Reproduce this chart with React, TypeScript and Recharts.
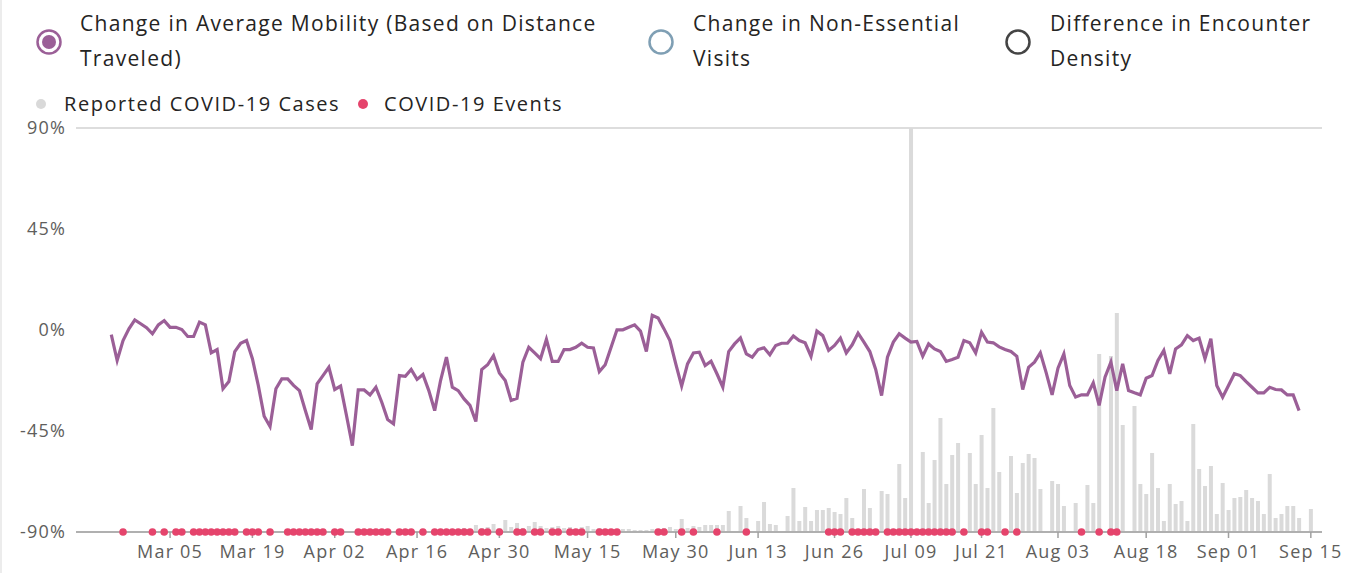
import { ComposedChart, Line, Bar, Scatter, XAxis, YAxis, CartesianGrid } from 'recharts';

// days are counted from Jan 1, 2020 (Jan 1 = 0)
const mobilityStartDay = 54; // Feb 24
const mobility = [
  -2.1, -13.6, -4.7, 0.5, 4.5, 2.8, 1.0, -1.7, 2.3, 4.2,
  1.2, 1.2, 0.2, -2.9, -2.9, 3.5, 2.3, -10.2, -8.7, -26.2,
  -23, -9.6, -5.9, -4.7, -12.8, -24.7, -38.4, -43, -26.2, -21.8,
  -21.8, -24.7, -27, -35.9, -44.3, -24, -20.3, -16.6, -26.5, -25,
  -38.1, -51.5, -26.7, -26.7, -28.9, -25.5, -32.2, -39.9, -41.8, -20.3,
  -20.6, -17.6, -22, -19.8, -27, -35.9, -22.5, -12.1, -25.5, -27,
  -30.7, -33.6, -40.8, -17.6, -15.5, -11.4, -19.1, -22.5, -31.4, -30.4,
  -14.3, -7.7, -10.2, -12.8, -4.2, -14, -14, -8.7, -8.7, -7.7,
  -5.9, -7.7, -8, -18.5, -15.5, -7.7, 0.1, 0.1, 1.2, 2.3,
  -0.5, -9.6, 6.5, 5.3, 0.5, -4.7, -15.1, -25, -15.1, -10.2,
  -9.9, -15.8, -13.9, -19.5, -25.5, -9.6, -6.2, -3.5, -10.6, -12.1,
  -8.7, -7.9, -11, -6.9, -5.9, -5.9, -2.7, -4.7, -5.7, -11.8,
  -0.5, -2.5, -9.1, -6.9, -3.6, -10.2, -6.6, -1.4, -5.4, -9.6,
  -17.6, -29.2, -12.1, -5.4, -1.7, -3.6, -5.4, -5.1, -11.7, -6.2,
  -8.4, -9.6, -14, -13.1, -12.1, -4.7, -5.7, -10.2, -1, -5.4,
  -5.7, -7.5, -8.7, -9.6, -11.7, -26.5, -16.6, -14.3, -10.2, -19.1,
  -28.9, -17, -10.6, -24.7, -29.9, -28.9, -28.9, -23.5, -33.6, -21,
  -14.3, -27, -15.1, -27, -28, -28.9, -21.5, -20.3, -13.6, -9.1,
  -19.5, -8.4, -6.6, -2.5, -4.7, -3.6, -12.8, -3.9, -24.7, -29.9,
  -24.7, -19.5, -20.3, -23, -25.5, -28, -28, -25.5, -26.5, -26.7,
  -28.9, -28.9, -35.9,
];

const casesStartDay = 110; // Apr 20
const cases = [
  10, 10, 15, 15, 20, 15, 35, 20, 25, 40,
  20, 60, 25, 45, 20, 30, 50, 30, 20, 25,
  30, 20, 25, 15, 25, 30, 15, 20, 15, 15,
  10, 15, 15, 10, 10, 10, 15, 15, 20, 25,
  15, 65, 20, 30, 25, 35, 35, 35, 35, 105,
  0, 130, 70, 0, 55, 150, 40, 35, 0, 80,
  220, 55, 125, 55, 110, 110, 120, 100, 90, 170,
  70, 0, 215, 120, 0, 205, 190, 0, 340, 170,
  2020, 0, 400, 145, 360, 570, 240, 385, 445, 0,
  395, 240, 485, 220, 620, 300, 0, 380, 195, 345,
  390, 370, 215, 0, 255, 240, 130, 0, 145, 0,
  235, 145, 890, 0, 880, 1095, 535, 0, 630, 240,
  190, 395, 220, 55, 240, 140, 155, 55, 540, 315,
  230, 330, 90, 245, 110, 170, 175, 210, 170, 155,
  90, 290, 70, 90, 130, 130, 70, 0, 115,
];

const eventDays = [
  56, 61, 63, 65, 66, 68, 69, 70, 71, 72, 73, 74, 75, 77, 78, 79, 81,
  84, 85, 86, 87, 88, 89, 90, 92, 93, 96, 97, 98, 99, 100, 101,
  103, 104, 105, 107, 109, 110, 111, 112, 113, 114, 115, 117, 118, 120,
  123, 124, 126, 127, 129, 130, 132, 133, 134, 137, 138, 139, 140,
  147, 148, 151, 153, 157, 162, 176, 177, 178, 180, 181, 182, 183, 184,
  186, 187, 188, 189, 190, 191, 192, 193, 194, 195, 196, 197, 199,
  202, 203, 206, 208, 219, 222, 224, 225,
];

const tickDays = [64, 78, 92, 106, 120, 135, 150, 164, 177, 190, 202, 215, 230, 244, 258];
const tickLabels = [
  'Mar 05', 'Mar 19', 'Apr 02', 'Apr 16', 'Apr 30', 'May 15', 'May 30', 'Jun 13',
  'Jun 26', 'Jul 09', 'Jul 21', 'Aug 03', 'Aug 18', 'Sep 01', 'Sep 15',
];
const yTicks = [-90, -45, 0, 45, 90];

const data: { day: number; mobility: number | null; cases: number | null }[] = [];
for (let d = mobilityStartDay; d < casesStartDay + cases.length; d++) {
  const m = d - mobilityStartDay;
  const c = d - casesStartDay;
  data.push({
    day: d,
    mobility: m < mobility.length ? mobility[m] : null,
    cases: c >= 0 ? cases[c] : null,
  });
}
const events = eventDays.map((d) => ({ day: d, event: -90 }));

const FONT = '"Open Sans", sans-serif';
const PURPLE = '#9b5f97';
const PINK = '#e5446c';
const axisTick = { fontSize: 18, fill: '#605e5c', fontFamily: FONT, letterSpacing: 1.2 };

const Ring = ({ color, filled }: { color: string; filled?: boolean }) => (
  <svg width={30} height={30} style={{ display: 'block' }}>
    <circle cx={15} cy={15} r={11.5} fill="none" stroke={color} strokeWidth={2.5} />
    {filled && <circle cx={15} cy={15} r={7} fill={color} />}
  </svg>
);

const Dot = ({ color }: { color: string }) => (
  <svg width={12} height={12} style={{ display: 'block' }}>
    <circle cx={6} cy={6} r={5} fill={color} />
  </svg>
);

const bigLegend = [
  { lines: ['Change in Average Mobility (Based on Distance', 'Traveled)'], color: PURPLE, filled: true, x: 34, tx: 80 },
  { lines: ['Change in Non-Essential', 'Visits'], color: '#7f9fb4', filled: false, x: 646, tx: 693 },
  { lines: ['Difference in Encounter', 'Density'], color: '#444444', filled: false, x: 1003, tx: 1050 },
];

const smallText = { position: 'absolute' as const, top: 89, fontSize: 20, letterSpacing: 1.55, lineHeight: '30px', color: '#252423' };

export default function App() {
  return (
    <div
      style={{
        position: 'absolute',
        left: 0,
        top: 0,
        width: 1364,
        height: 573,
        background: '#fff',
        fontFamily: FONT,
      }}
    >
      <div style={{ position: 'absolute', left: 0, top: 0, width: 2, height: 573, background: '#ececec' }} />
      {bigLegend.map((it) => (
        <div key={it.lines[0]}>
          <div style={{ position: 'absolute', left: it.x, top: 27 }}>
            <Ring color={it.color} filled={it.filled} />
          </div>
          <div
            style={{
              position: 'absolute',
              left: it.tx,
              top: 6,
              fontSize: 21,
              letterSpacing: 1.3,
              lineHeight: '35px',
              color: '#252423',
              whiteSpace: 'nowrap',
            }}
          >
            {it.lines.map((l) => (
              <div key={l}>{l}</div>
            ))}
          </div>
        </div>
      ))}
      <div style={{ position: 'absolute', left: 35, top: 98 }}>
        <Dot color="#d9d9d9" />
      </div>
      <div style={{ ...smallText, left: 64 }}>Reported COVID-19 Cases</div>
      <div style={{ position: 'absolute', left: 357, top: 98 }}>
        <Dot color={PINK} />
      </div>
      <div style={{ ...smallText, left: 384 }}>COVID-19 Events</div>

      <div style={{ position: 'absolute', left: 0, top: 0 }}>
        <ComposedChart
          width={1364}
          height={573}
          data={data}
          margin={{ top: 128, right: 42, bottom: 0, left: 0 }}
        >
          <CartesianGrid vertical={false} stroke="#d2d2d2" strokeWidth={1.5} />
          <XAxis
            dataKey="day"
            type="number"
            domain={[48, 259.9]}
            ticks={tickDays}
            tickFormatter={(v: number) => tickLabels[tickDays.indexOf(v)] ?? ''}
            interval={0}
            height={41}
            stroke="#a0a0a0"
            strokeWidth={1.5}
            tickSize={6}
            tickMargin={7}
            tick={axisTick}
            allowDataOverflow
          />
          <YAxis
            yAxisId="pct"
            orientation="left"
            domain={[-90, 90]}
            ticks={yTicks}
            tickFormatter={(v: number) => `${v}%`}
            width={76}
            axisLine={false}
            tickLine={false}
            tickSize={6}
            tickMargin={4}
            tick={axisTick}
          />
          <YAxis yAxisId="cases" orientation="right" hide domain={[0, 2020]} />
          <Bar yAxisId="cases" dataKey="cases" fill="#dadada" barSize={4} isAnimationActive={false} />
          <Line
            yAxisId="pct"
            dataKey="mobility"
            stroke={PURPLE}
            strokeWidth={3.2}
            dot={false}
            connectNulls={false}
            isAnimationActive={false}
          />
          <Scatter
            yAxisId="pct"
            data={events}
            dataKey="event"
            fill={PINK}
            isAnimationActive={false}
            shape={(p: any) => <circle cx={p.cx} cy={p.cy} r={3.8} fill={PINK} />}
          />
        </ComposedChart>
      </div>
    </div>
  );
}
